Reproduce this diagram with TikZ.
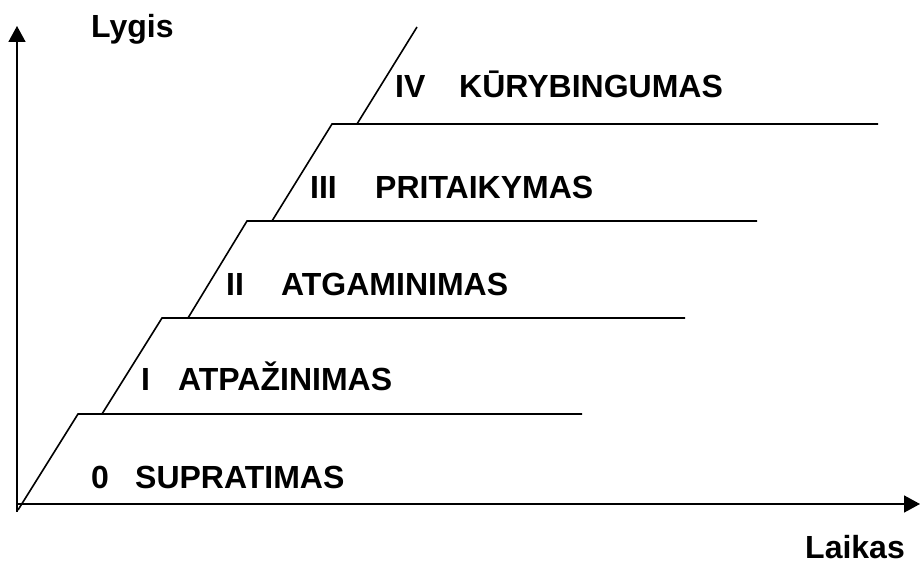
\documentclass[tikz,border=0pt]{standalone}
\usepackage{fontspec}
\setmainfont{Liberation Sans}
\usetikzlibrary{arrows.meta}
\begin{document}
\begin{tikzpicture}[x=1pt,y=-1pt,
  ln/.style={line width=1.6pt,line cap=butt},
  axis/.style={line width=1.6pt,-{Triangle[width=17pt,length=16pt]}},
  lbl/.style={anchor=base west,inner sep=0pt,font=\bfseries\fontsize{32}{32}\selectfont}]
\useasboundingbox (0,0) rectangle (920,564);
% axes
\coordinate (o) at (17,512);
\coordinate (ytop) at (17,26);
\coordinate (xo) at (16,504);
\coordinate (xend) at (920,504);
\draw[axis] (o) -- (ytop);
\draw[axis] (xo) -- (xend);
% steps
\coordinate (d0) at (18,510);
\coordinate (s1) at (78,414);  \coordinate (e1) at (582,414); \coordinate (b1) at (102,414);
\coordinate (s2) at (162,318); \coordinate (e2) at (685,318); \coordinate (b2) at (188,318);
\coordinate (s3) at (247,221); \coordinate (e3) at (757,221); \coordinate (b3) at (272,221);
\coordinate (s4) at (332,124); \coordinate (e4) at (878,124); \coordinate (b4) at (357,124);
\coordinate (t5) at (417,27);
\draw[ln] (d0) -- (s1) -- (e1);
\draw[ln] (b1) -- (s2) -- (e2);
\draw[ln] (b2) -- (s3) -- (e3);
\draw[ln] (b3) -- (s4) -- (e4);
\draw[ln] (b4) -- (t5);
% labels
\node[lbl] (lygis) at (91,38) {Lygis};
\node[lbl] (laikas) at (805,558) {Laikas};
\node[lbl] (n0) at (91,488) {0};
\node[lbl] (t0) at (135,488) {SUPRATIMAS};
\node[lbl] (n1) at (141,390) {I};
\node[lbl] (t1) at (178,390) {ATPAŽINIMAS};
\node[lbl] (n2) at (226,295) {II};
\node[lbl] (t2) at (281,295) {ATGAMINIMAS};
\node[lbl] (n3) at (310,198) {III};
\node[lbl] (t3) at (375,198) {PRITAIKYMAS};
\node[lbl] (n4) at (395,98) {IV};
\node[lbl] (t4) at (459,98) {KŪRYBINGUMAS};
\end{tikzpicture}
\end{document}
